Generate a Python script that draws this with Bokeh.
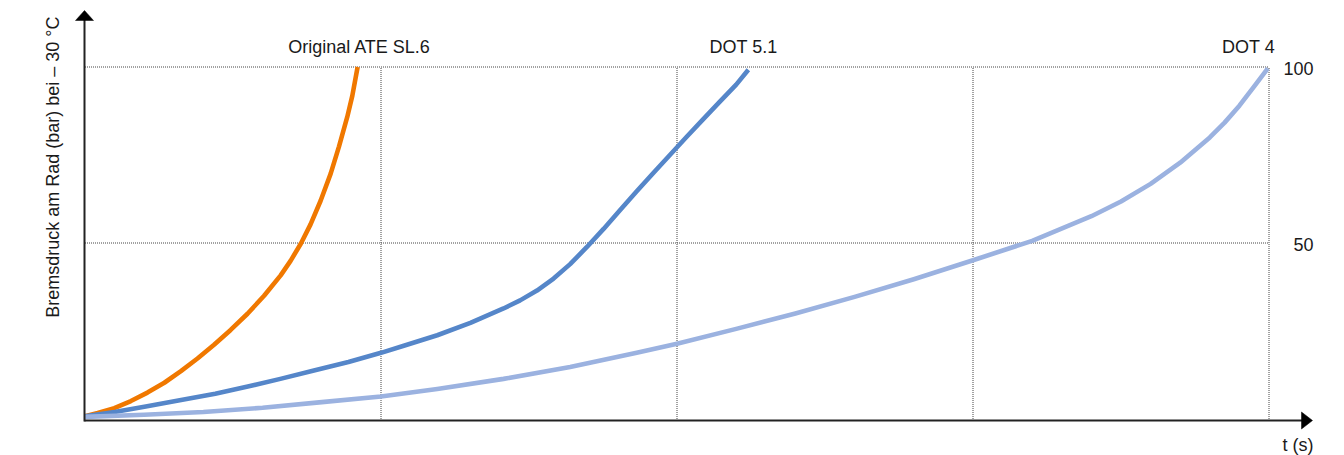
import math
from bokeh.plotting import figure
from bokeh.models import Range1d, Label
from bokeh.embed import file_html
from bokeh.resources import INLINE

# ---------------- data ----------------
series_names = ["Original ATE SL.6", "DOT 5.1", "DOT 4"]

t_ate = [0.0, 0.043, 0.099, 0.155, 0.211, 0.268, 0.324, 0.380, 0.436, 0.492, 0.549, 0.605,
         0.661, 0.695, 0.729, 0.762, 0.796, 0.830, 0.858, 0.886, 0.903, 0.921]
p_ate = [0.8, 1.7, 3.1, 5.1, 7.5, 10.3, 13.6, 17.2, 21.1, 25.3, 29.9, 35.0,
         40.8, 45.0, 49.8, 55.3, 62.0, 69.7, 77.4, 85.8, 91.8, 100.0]

t_dot51 = [0.0, 0.1, 0.21, 0.32, 0.44, 0.55, 0.66, 0.77, 0.89, 1.0, 1.077, 1.19,
           1.302, 1.414, 1.470, 1.527, 1.583, 1.639, 1.695, 1.752, 1.808, 1.864, 1.920,
           1.976, 2.032, 2.088, 2.144, 2.200, 2.241]
p_dot51 = [0.8, 2.0, 3.6, 5.3, 7.2, 9.2, 11.4, 13.7, 16.2, 18.8, 20.8, 23.8,
           27.3, 31.4, 33.7, 36.5, 39.9, 44.0, 48.8, 54.0, 59.4, 64.7, 69.9,
           75.0, 80.1, 85.1, 90.1, 95.0, 99.2]

t_dot4 = [0.0, 0.2, 0.4, 0.6, 0.8, 1.0, 1.19, 1.414, 1.639, 1.864, 2.0, 2.2, 2.4, 2.6,
          2.8, 3.0, 3.2, 3.4, 3.5, 3.6, 3.7, 3.8, 3.85, 3.9, 3.95, 3.996]
p_dot4 = [0.6, 1.2, 2.0, 3.2, 4.8, 6.4, 8.5, 11.4, 14.8, 18.8, 21.4, 25.6, 30.0, 34.7,
          39.7, 45.1, 50.6, 57.6, 61.8, 66.8, 72.8, 80.0, 84.2, 89.0, 94.5, 99.6]

x_grid_ticks = [1, 2, 3, 4]
y_grid_ticks = [50, 100]
y_tick_labels = ["50", "100"]

x_axis_label = "t (s)"
y_axis_label = "Bremsdruck am Rad (bar) bei \u2013 30 \u00b0C"

# ---------------- layout / style ----------------
W, H = 1344, 455
X0 = 84.5        # px of t = 0
PX_T = 296.0     # px per second
Y0 = 418.5       # px of p = 0
PX_P = 3.52      # px per bar
TXT_SHIFT = 6.5  # svg baseline correction (px)

def tx(px):      # x pixel -> data t
    return (px - X0) / PX_T

def py(px):      # y pixel (from top) -> data p
    return (Y0 - px) / PX_P

colors = ["#F07800", "#5586C9", "#9BB2E0"]
FONT = "Liberation Sans"
FS = "18px"
TXT = "#1a1a1a"

p = figure(width=W, height=H,
           x_range=Range1d(tx(0), tx(W)), y_range=Range1d(py(H), py(0)),
           x_axis_type=None, y_axis_type=None,
           output_backend="svg", toolbar_location=None,
           min_border=0, outline_line_color=None,
           background_fill_color="white", border_fill_color="white")
p.grid.visible = False

# dotted grid
x_end = x_grid_ticks[-1]
y_top = y_grid_ticks[-1]
p.segment(x0=x_grid_ticks, y0=[0] * len(x_grid_ticks), x1=x_grid_ticks, y1=[y_top] * len(x_grid_ticks),
          line_color="#444444", line_width=1, line_dash="1 1")
p.segment(x0=[0] * len(y_grid_ticks), y0=y_grid_ticks, x1=[x_end] * len(y_grid_ticks), y1=y_grid_ticks,
          line_color="#444444", line_width=1, line_dash="1 1")

# curves
for t, v, c in zip([t_ate, t_dot51, t_dot4], [p_ate, p_dot51, p_dot4], colors):
    p.line(t, v, line_color=c, line_width=4.6, line_join="round")

# axes with arrow heads
axis_x = tx(84)
axis_y = py(420)
x_tip = tx(1312)
y_tip = py(10)
p.line([axis_x, tx(1303)], [axis_y, axis_y], line_color="#222222", line_width=2)
p.line([axis_x, axis_x], [axis_y - 0.3, py(19)], line_color="#222222", line_width=2)
p.patch([x_tip, tx(1301), tx(1301)],
        [axis_y, py(420 - 8.5), py(420 + 8.5)],
        fill_color="black", line_color="black", line_width=0.5)
p.patch([axis_x, tx(84 - 9), tx(84 + 9)],
        [y_tip, py(20), py(20)],
        fill_color="black", line_color="black", line_width=0.5)

# series labels
label_t = [tx(359), tx(743), tx(1248)]
for name, lt in zip(series_names, label_t):
    p.add_layout(Label(x=lt, y=py(53 - TXT_SHIFT), text=name, text_align="center",
                       text_baseline="alphabetic", text_font=FONT,
                       text_font_size=FS, text_color=TXT))

# y tick labels (right side)
for yv, lab in zip(y_grid_ticks, y_tick_labels):
    p.add_layout(Label(x=tx(1313), y=yv - (8.3 - TXT_SHIFT) / PX_P, text=lab, text_align="right",
                       text_baseline="alphabetic", text_font=FONT,
                       text_font_size=FS, text_color=TXT))

# axis labels
p.add_layout(Label(x=tx(1313), y=py(450.5 - TXT_SHIFT), text=x_axis_label, text_align="right",
                   text_baseline="alphabetic", text_font=FONT,
                   text_font_size=FS, text_color=TXT))
p.add_layout(Label(x=tx(60 - TXT_SHIFT - 1), y=py(166.7), text=y_axis_label, angle=math.pi / 2,
                   text_align="center", text_baseline="alphabetic", text_font=FONT,
                   text_font_size=FS, text_color=TXT))

open("out.html", "w").write(file_html(p, INLINE))
